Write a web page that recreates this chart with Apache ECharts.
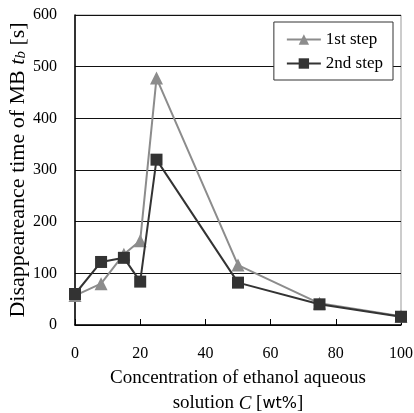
<!DOCTYPE html>
<html><head><meta charset="utf-8">
<script src="https://cdn.jsdelivr.net/npm/echarts@6/dist/echarts.min.js"></script>
<style>html,body{margin:0;padding:0;background:#fff;overflow:hidden}#c{width:414px;height:413px}</style>
</head><body><div id="c"></div>
<script>
const concentration = [0, 8, 15, 20, 25, 50, 75, 100];
const step1 = [57, 80, 137, 163, 478, 116, 42, 17];
const step2 = [60, 122, 130, 84, 320, 82, 40, 16];
const seriesNames = ['1st step', '2nd step'];

const serif = 'Liberation Serif';
const chart = echarts.init(document.getElementById('c'), null, {width: 414, height: 413});
const pair = arr => concentration.map((c, i) => [c, arr[i]]);
chart.setOption({
  animation: false,
  backgroundColor: '#fff',
  grid: {left: 75, right: 13, top: 15, bottom: 88, show: true, borderColor: '#999', borderWidth: 1,
         containLabel: false, outerBoundsMode: 'none'},
  legend: {
    right: 21, top: 22, orient: 'vertical', itemGap: 7, itemWidth: 34, itemHeight: 13,
    backgroundColor: '#fff', borderColor: '#333', borderWidth: 1, padding: [9, 10, 8, 12],
    textStyle: {fontFamily: serif, fontSize: 17, color: '#000'},
    data: seriesNames
  },
  xAxis: {
    type: 'value', min: 0, max: 100, interval: 20,
    axisLine: {lineStyle: {color: '#000', width: 1.5}},
    axisTick: {inside: true, length: 6, lineStyle: {color: '#000'}},
    axisLabel: {fontFamily: serif, fontSize: 16, color: '#000', margin: 21},
    splitLine: {show: false},
    name: 'Concentration of ethanol aqueous\nsolution {i|C} [{s|wt%}]',
    nameLocation: 'middle', nameGap: 41, nameMoveOverlap: false,
    nameTextStyle: {fontFamily: serif, fontSize: 19, color: '#000', lineHeight: 25,
      rich: {i: {fontFamily: serif, fontStyle: 'italic', fontSize: 19, color: '#000'},
             s: {fontFamily: 'DejaVu Sans', fontSize: 16, color: '#000'}}}
  },
  yAxis: {
    type: 'value', min: 0, max: 600, interval: 100,
    axisLine: {show: true, lineStyle: {color: '#000', width: 1.5}},
    axisTick: {show: false},
    axisLabel: {fontFamily: serif, fontSize: 16, color: '#000', margin: 18},
    splitLine: {lineStyle: {color: '#111', width: 1}},
    name: 'Disappeareance time of MB {i|t}{sub|b} [s]',
    nameLocation: 'middle', nameGap: 46, nameRotate: 90, nameMoveOverlap: false,
    nameTextStyle: {fontFamily: serif, fontSize: 22, color: '#000',
      rich: {i: {fontFamily: serif, fontStyle: 'italic', fontSize: 22, color: '#000'},
             sub: {fontFamily: serif, fontStyle: 'italic', fontSize: 15, color: '#000', padding: [7, 0, 0, 0]}}}
  },
  series: [
    {name: seriesNames[0], type: 'line', data: pair(step1), symbol: 'triangle', symbolSize: 13,
     lineStyle: {color: '#8c8c8c', width: 2}, itemStyle: {color: '#8c8c8c'}, z: 2},
    {name: seriesNames[1], type: 'line', data: pair(step2), symbol: 'rect', symbolSize: 12,
     lineStyle: {color: '#333', width: 2}, itemStyle: {color: '#333'}, z: 3}
  ]
});
</script></body></html>
